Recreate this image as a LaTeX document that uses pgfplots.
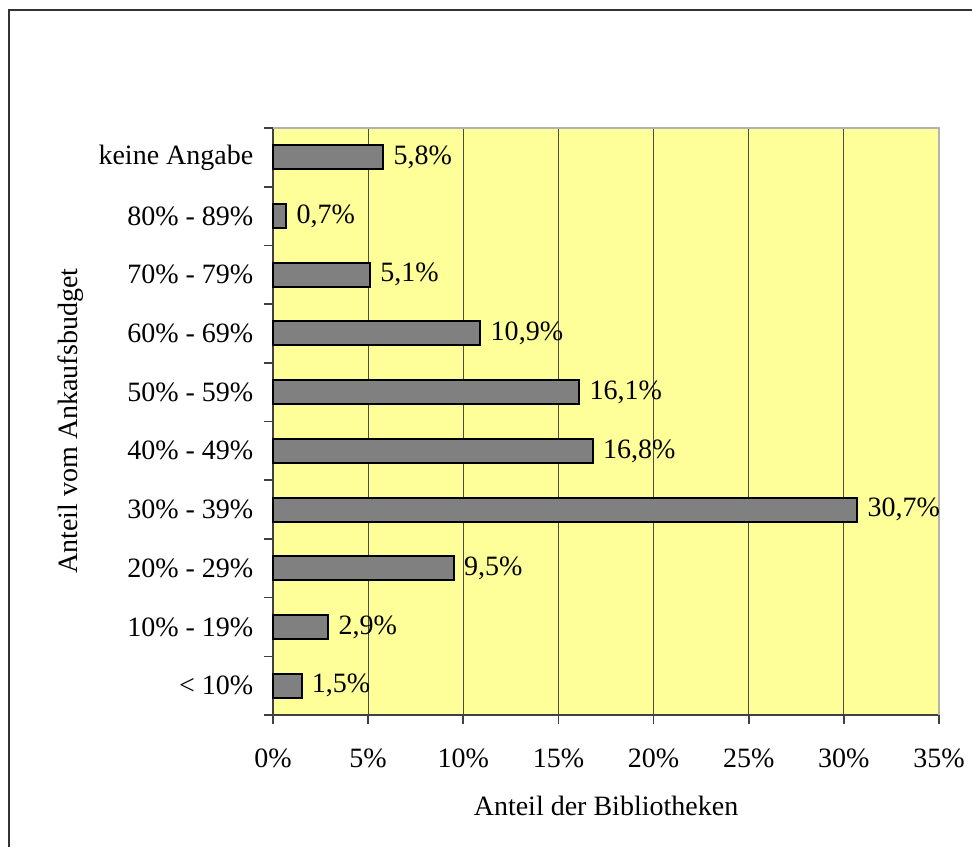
\documentclass[border=0pt]{standalone}
\usepackage{fontspec}
\setmainfont{Liberation Serif}
\usepackage{pgfplots}
\pgfplotsset{compat=1.18}
\definecolor{plotbg}{HTML}{FFFF99}
\definecolor{barfill}{HTML}{808080}
\begin{document}
\fontsize{14}{17}\selectfont
\begin{tikzpicture}[x=0.5pt,y=-0.5pt]
\useasboundingbox (0,0) rectangle (972,847);
\draw[line width=1pt, black!80] (9,847) -- (9,10) -- (972,10);
\begin{axis}[
  at={(136.5pt,-357.5pt)}, anchor=south west,
  scale only axis, width=333pt, height=293.5pt,
  xbar, bar width=12pt,
  xmin=0, xmax=35, ymin=-0.5, ymax=9.5,
  axis x line*=bottom, axis y line*=left,
  axis line style={black!75, line width=0.8pt},
  axis background/.style={fill=plotbg},
  xtick={0,5,10,15,20,25,30,35},
  xticklabels={0\%,5\%,10\%,15\%,20\%,25\%,30\%,35\%},
  ytick={-0.5,0.5,1.5,2.5,3.5,4.5,5.5,6.5,7.5,8.5,9.5},
  yticklabels={{},{},{},{},{},{},{},{},{},{},{}},
  extra y ticks={0,1,2,3,4,5,6,7,8,9},
  extra y tick labels={{< 10\%},{10\% - 19\%},{20\% - 29\%},{30\% - 39\%},{40\% - 49\%},{50\% - 59\%},{60\% - 69\%},{70\% - 79\%},{80\% - 89\%},{keine Angabe}},
  extra y tick style={major tick length=0pt, ymajorgrids=false, yticklabel style={xshift=-5pt}},
  tick align=outside, major tick length=4.5pt,
  tick style={black!75, line width=0.8pt},
  xmajorgrids, grid style={black!70, line width=0.5pt},
  xticklabel style={yshift=-7.5pt},
  clip=false,
  point meta=explicit symbolic,
  nodes near coords,
  every node near coord/.append style={anchor=west, font=\fontsize{14}{17}\selectfont},
]
\addplot[fill=barfill, draw=black, line width=1pt] coordinates {
  (1.5,0) [1,5\%]
  (2.9,1) [2,9\%]
  (9.5,2) [9,5\%]
  (30.7,3) [30,7\%]
  (16.8,4) [16,8\%]
  (16.1,5) [16,1\%]
  (10.9,6) [10,9\%]
  (5.1,7) [5,1\%]
  (0.7,8) [0,7\%]
  (5.8,9) [5,8\%]
};
\draw[black!30, line width=0.8pt] (rel axis cs:0,1) -- (rel axis cs:1,1) -- (rel axis cs:1,0);
\end{axis}
\node[rotate=90] at (71,421) {Anteil vom Ankaufsbudget};
\node at (606,806) {Anteil der Bibliotheken};
\end{tikzpicture}
\end{document}
